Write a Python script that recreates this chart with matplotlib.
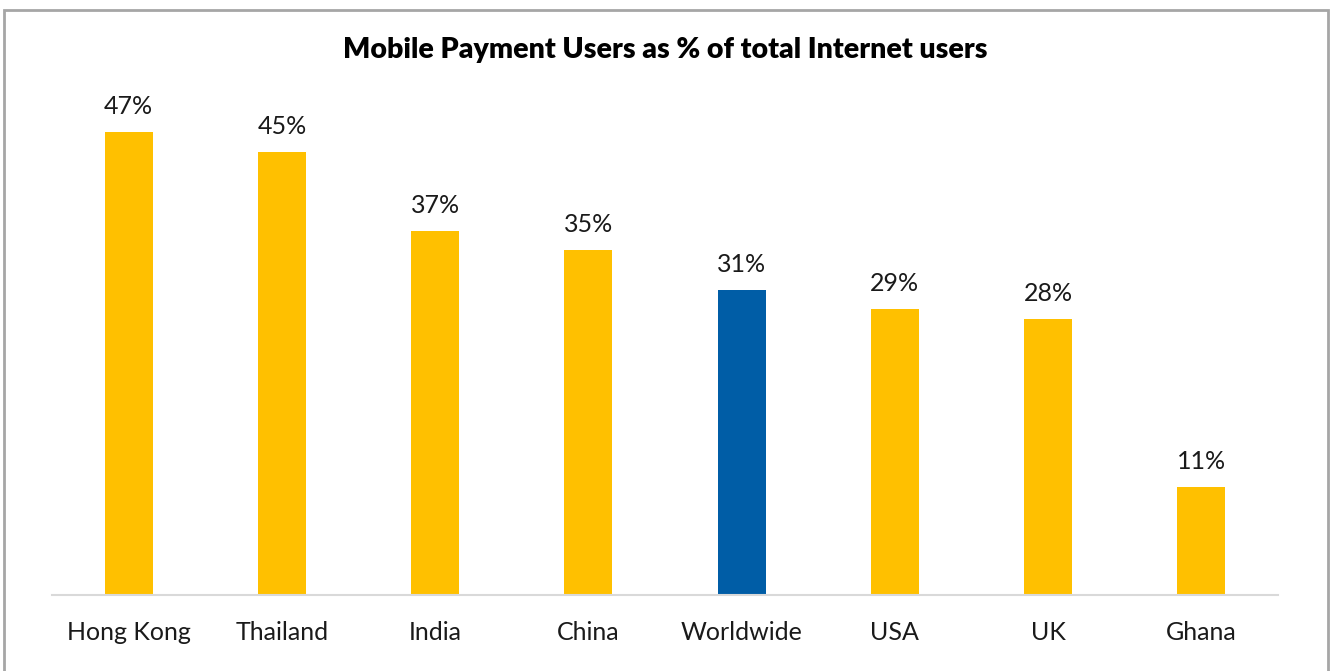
import matplotlib.pyplot as plt
from matplotlib.patches import Rectangle

countries = ['Hong Kong', 'Thailand', 'India', 'China', 'Worldwide', 'USA', 'UK', 'Ghana']
share = [47, 45, 37, 35, 31, 29, 28, 11]
highlight = 'Worldwide'

YELLOW = '#FFC000'
BLUE = '#005DA6'

plt.rcParams['font.family'] = ['Lato', 'DejaVu Sans']

fig = plt.figure(figsize=(13.3, 6.71), dpi=100)
ax = fig.add_axes([52 / 1330, 1 - 595 / 671, 1226 / 1330, (595 - 102.5) / 671])

colors = [BLUE if c == highlight else YELLOW for c in countries]
x = range(len(countries))
bars = ax.bar(x, share, width=0.313, color=colors, zorder=2)

for rect, v in zip(bars, share):
    ax.annotate('%d%%' % v, (rect.get_x() + rect.get_width() / 2, v),
                xytext=(0, 10), textcoords='offset points',
                ha='center', va='bottom', fontsize=18, color='#1a1a1a')

ax.set_xlim(-0.5, len(countries) - 0.5)
ax.set_ylim(0, 50)
ax.set_xticks(list(x))
ax.set_xticklabels(countries, fontsize=18, color='#1a1a1a')
ax.tick_params(axis='x', length=0, pad=19)
ax.set_yticks([])
for s in ['top', 'right', 'left']:
    ax.spines[s].set_visible(False)
ax.spines['bottom'].set_color('#D9D9D9')
ax.spines['bottom'].set_linewidth(1.5)

fig.text(0.5, 1 - 50 / 671, 'Mobile Payment Users as % of total Internet users',
         ha='center', va='center', fontsize=20.5, fontweight='heavy', color='#000000')

fig.add_artist(Rectangle((3.5 / 1330, -0.02), 1324 / 1330, 1.02 - 9.5 / 671,
                         transform=fig.transFigure, fill=False,
                         edgecolor='#A6A6A6', linewidth=2))

fig.savefig('out.png', dpi=100)
